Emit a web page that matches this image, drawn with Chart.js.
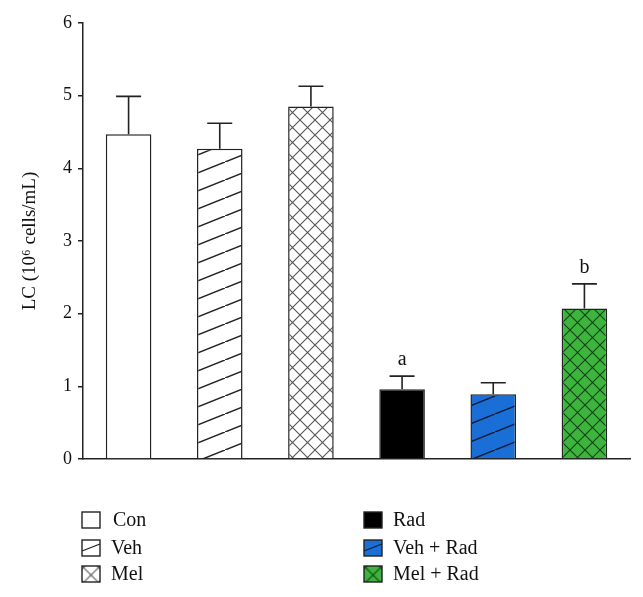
<!DOCTYPE html>
<html>
<head>
<meta charset="utf-8">
<script src="https://cdn.jsdelivr.net/npm/chart.js@4.4.0/dist/chart.umd.min.js"></script>
<style>
  html, body { margin: 0; padding: 0; background: #fff; }
  #wrap { width: 643px; height: 597px; position: relative; }
</style>
</head>
<body>
<div id="wrap"><canvas id="lcChart" width="643" height="597"></canvas></div>
<script>
// Data
const groups = ['Con', 'Veh', 'Mel', 'Rad', 'Veh + Rad', 'Mel + Rad'];
const lcMeans = [4.47, 4.27, 4.85, 0.96, 0.89, 2.07];
const lcErrors = [0.52, 0.35, 0.28, 0.18, 0.16, 0.34];
const sigLetters = ['', '', '', 'a', '', 'b'];
const yTicks = [0, 1, 2, 3, 4, 5, 6];

const serif = '"Liberation Serif", "DejaVu Serif", serif';

const bgColors = ['#ffffff', '#ffffff', '#ffffff', '#000000', '#1a6fd6', '#3db53d'];
const lineColors = [null, '#222222', '#555555', null, '#0d1d3a', '#14401a'];
const kinds = ['plain', 'diag', 'cross', 'plain', 'diag', 'cross'];

// pattern helpers
function diagPattern(bg, line) {
    const c = document.createElement('canvas');
    c.width = 45; c.height = 18;
    const g = c.getContext('2d');
    g.fillStyle = bg;
    g.fillRect(0, 0, c.width, c.height);
    g.strokeStyle = line;
    g.lineWidth = 1.5;
    g.beginPath();
    g.moveTo(-45, 36); g.lineTo(45, 0);
    g.moveTo(0, 18); g.lineTo(90, -18);
    g.stroke();
    return g.createPattern(c, 'repeat');
}

function crossPattern(bg, line) {
    const c = document.createElement('canvas');
    c.width = 15; c.height = 15;
    const g = c.getContext('2d');
    g.fillStyle = bg;
    g.fillRect(0, 0, 15, 15);
    g.strokeStyle = line;
    g.lineWidth = 1.1;
    g.beginPath();
    g.moveTo(-1, -1); g.lineTo(16, 16);
    g.moveTo(-1, 16); g.lineTo(16, -1);
    g.stroke();
    return g.createPattern(c, 'repeat');
}

const fills = kinds.map((k, i) => {
    if (k === 'diag') return diagPattern(bgColors[i], lineColors[i]);
    if (k === 'cross') return crossPattern(bgColors[i], lineColors[i]);
    return bgColors[i];
});

// error bars and letters
const errorBarPlugin = {
    id: 'errorBars',
    afterDatasetsDraw(chart) {
        const ctx = chart.ctx;
        const meta = chart.getDatasetMeta(0);
        const y = chart.scales.y;
        ctx.save();
        ctx.strokeStyle = '#222';
        ctx.lineWidth = 1.6;
        meta.data.forEach((bar, i) => {
            const top = y.getPixelForValue(lcMeans[i]);
            const errTop = y.getPixelForValue(lcMeans[i] + lcErrors[i]);
            ctx.beginPath();
            ctx.moveTo(bar.x, top);
            ctx.lineTo(bar.x, errTop);
            ctx.moveTo(bar.x - 12.5, errTop);
            ctx.lineTo(bar.x + 12.5, errTop);
            ctx.stroke();
            if (sigLetters[i]) {
                ctx.fillStyle = '#111';
                ctx.font = '20px ' + serif;
                ctx.textAlign = 'center';
                ctx.textBaseline = 'alphabetic';
                ctx.fillText(sigLetters[i], bar.x, errTop - 11);
            }
        });
        ctx.restore();
    }
};

// legend drawn under the plot
const legendPlugin = {
    id: 'groupLegend',
    afterDraw(chart) {
        const ctx = chart.ctx;
        const cols = [82, 364];
        const rows = [520, 548, 574];
        ctx.save();
        ctx.font = '20px ' + serif;
        ctx.textBaseline = 'middle';
        ctx.textAlign = 'left';
        groups.forEach((name, i) => {
            const x = cols[Math.floor(i / 3)];
            const yc = rows[i % 3];
            if (kinds[i] === 'cross') {
                ctx.save();
                ctx.translate(x + 1.5, yc - 6.5);
                ctx.fillStyle = fills[i];
                ctx.fillRect(-1.5, -1.5, 18, 16);
                ctx.restore();
            } else {
                ctx.fillStyle = bgColors[i];
                ctx.fillRect(x, yc - 8, 18, 16);
            }
            if (kinds[i] === 'diag') {
                ctx.strokeStyle = lineColors[i];
                ctx.lineWidth = 1.3;
                ctx.beginPath();
                ctx.moveTo(x, yc + 3);
                ctx.lineTo(x + 18, yc - 4);
                ctx.stroke();
            }
            ctx.strokeStyle = '#222';
            ctx.lineWidth = 1.4;
            ctx.strokeRect(x, yc - 8, 18, 16);
            ctx.fillStyle = '#111';
            ctx.fillText(name, x + (i === 0 ? 31 : 29), yc + 1);
        });
        ctx.restore();
    }
};

new Chart(document.getElementById('lcChart').getContext('2d'), {
    type: 'bar',
    data: {
        labels: groups,
        datasets: [{
            data: lcMeans,
            backgroundColor: fills,
            borderColor: '#222222',
            borderWidth: 1.5,
            borderSkipped: 'bottom',
            categoryPercentage: 1.0,
            barPercentage: 0.5
        }]
    },
    options: {
        responsive: false,
        animation: false,
        layout: { padding: { left: 0, right: 13, top: 23, bottom: 138 } },
        plugins: {
            legend: { display: false },
            tooltip: { enabled: false }
        },
        scales: {
            x: {
                grid: { display: false },
                ticks: { display: false },
                border: { display: true, color: '#222', width: 1.5 },
                afterFit: (scale) => { scale.height = 0; }
            },
            y: {
                min: 0,
                max: 6,
                afterBuildTicks: (scale) => { scale.ticks = yTicks.map(v => ({ value: v })); },
                grid: { drawOnChartArea: false, tickLength: 5, color: '#222', lineWidth: 1.5 },
                border: { display: true, color: '#222', width: 1.5 },
                ticks: {
                    color: '#111',
                    padding: 6,
                    font: { family: serif, size: 18 }
                },
                title: {
                    display: true,
                    text: 'LC (10\u2076 cells/mL)',
                    color: '#111',
                    font: { family: serif, size: 19 },
                    padding: { top: 19, bottom: 0 }
                },
                afterFit: (scale) => { scale.width = 83; }
            }
        }
    },
    plugins: [errorBarPlugin, legendPlugin]
});
</script>
</body>
</html>
